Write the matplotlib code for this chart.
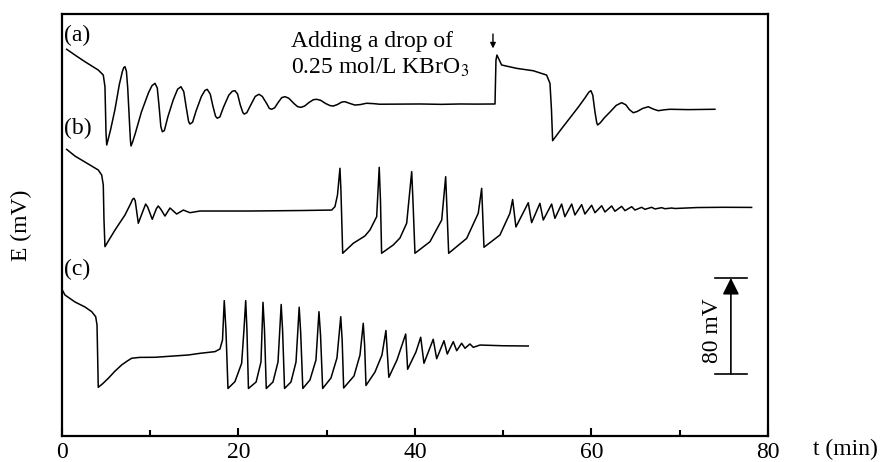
import matplotlib
matplotlib.use('Agg')
import matplotlib.pyplot as plt

plt.rcParams['font.family'] = ['Liberation Serif', 'DejaVu Serif']
plt.rcParams['mathtext.fontset'] = 'stix'

# 读图得到的数据: t (min), E (mV, 三条曲线已叠加偏移)
ta = [0.53, 1.47, 2.61, 4.11, 4.68, 4.87, 4.99, 5.07,
      5.5, 6.0, 6.5, 6.85, 7.0, 7.14, 7.3, 7.45, 7.6, 7.75, 7.82, 8.0,
      8.3, 9.0, 9.8, 10.2, 10.54, 10.8, 11.0, 11.2, 11.37, 11.6,
      12.0, 12.6, 13.1, 13.48, 13.8, 14.1, 14.35, 14.5, 14.8,
      15.2, 15.8, 16.2, 16.46, 16.8, 17.1, 17.4, 17.6, 17.9,
      18.3, 18.9, 19.3, 19.6, 19.9, 20.2, 20.5, 20.66, 20.95,
      21.4, 21.9, 22.32, 22.7, 23.2, 23.5, 23.76, 24.1,
      24.5, 24.9, 25.27, 25.7, 26.3, 26.7, 27.08, 27.5,
      28.0, 28.5, 28.86, 29.3, 29.9, 30.4, 30.74, 31.2,
      31.7, 32.07, 32.6, 33.2, 33.8, 34.5, 35.3, 36.0, 38.0, 40.6, 43.0, 45.1, 47.0, 49.07,
      49.18, 49.29, 49.82, 51.52, 53.41, 54.92, 55.30, 55.47, 55.60,
      56.5, 57.56, 58.5, 59.26, 59.7, 59.94, 60.15, 60.4, 60.6, 60.70,
      61.0, 61.5, 62.1, 62.8, 63.42, 63.9, 64.3, 64.74,
      65.2, 65.8, 66.44, 67.0, 67.57, 68.2, 68.9, 71.0, 73.99]
Ea = [322.3, 317.5, 311.9, 305.0, 300.8, 291.1, 252.5, 242.5,
      255.0, 272.0, 293.0, 304.0, 307.0, 307.8, 304.0, 290.0, 268.0, 247.0, 241.7, 245.0,
      252.0, 270.0, 286.0, 292.0, 293.9, 290.0, 275.0, 258.0, 253.6, 254.5,
      266.0, 280.0, 289.0, 291.1, 287.0, 273.0, 262.0, 260.0, 261.5,
      271.0, 283.0, 288.0, 288.9, 285.0, 275.0, 266.5, 264.8, 266.0,
      274.0, 284.0, 287.3, 287.8, 285.0, 276.0, 269.5, 268.3, 269.5,
      276.0, 283.0, 284.8, 283.0, 277.0, 273.0, 272.3, 273.5,
      278.0, 282.0, 282.8, 281.5, 277.0, 274.5, 273.9, 275.0,
      278.0, 280.3, 280.6, 279.8, 277.0, 275.3, 275.0, 276.2,
      278.3, 278.6, 277.2, 275.8, 276.2, 277.3, 277.0, 276.5, 276.6, 276.7, 276.4, 276.7, 276.6, 276.7,
      313.3, 317.5, 309.2, 306.4, 304.4, 300.8, 293.9, 271.7, 246.1,
      255.0, 265.0, 274.0, 281.7, 286.5, 287.8, 284.0, 270.0, 261.0, 259.2,
      261.0, 265.5, 270.0, 275.5, 277.8, 276.0, 272.0, 269.4,
      270.5, 273.0, 274.4, 272.5, 271.1, 271.8, 272.3, 272.0, 272.3]

tb = [0.53, 1.47, 2.61, 4.11, 4.50, 4.68, 4.76, 4.87,
      6.01, 7.14, 7.82, 8.0, 8.16, 8.3, 8.65, 9.2, 9.48, 9.7, 10.23, 10.7, 10.91, 11.2, 11.67,
      12.24, 13.0, 13.75, 14.5,
      15.64, 21.3, 26.97, 30.56, 30.93, 31.22, 31.5, 31.61, 31.81,
      33.01, 34.33, 34.9, 35.66, 35.95, 36.09, 36.22,
      37.54, 38.3, 39.06, 39.63, 39.77, 40.0,
      41.7, 43.03, 43.48, 43.63, 43.82,
      45.86, 47.17, 47.56, 47.82,
      49.63, 50.76, 51.07, 51.44,
      52.84, 53.22, 54.16, 54.54, 55.49, 55.86, 56.62, 56.99, 57.76, 58.13,
      58.89, 59.26, 60.02, 60.40, 61.16, 61.53, 62.29, 62.66, 63.42, 63.80,
      64.56, 64.93, 65.69, 66.06, 66.82, 67.20, 67.95, 68.33, 69.09, 69.46,
      72.0, 75.0, 78.15]
Eb = [238.9, 233.3, 228.3, 221.7, 217.5, 209.2, 180.0, 157.8,
      171.7, 184.2, 194.2, 197.3, 198.1, 196.0, 177.3, 188.0, 193.3, 191.0, 180.6, 189.5, 191.7, 189.0, 183.3,
      190.0, 185.0, 188.3, 186.1,
      187.5, 187.5, 187.9, 188.3, 191.1, 200.8, 223.1, 205.0, 152.3,
      160.6, 166.7, 171.7, 182.8, 223.9, 196.7, 152.3,
      159.2, 165.0, 177.3, 220.3, 196.7, 152.3,
      161.9, 180.0, 216.1, 188.3, 152.3,
      164.7, 185.6, 206.4, 157.3,
      167.5, 185.6, 197.1, 174.2,
      194.4, 177.8, 193.9, 180.0, 193.3, 181.4, 193.3, 182.8, 193.3, 184.2,
      192.8, 185.0, 192.3, 186.1, 191.9, 186.7, 191.7, 187.3, 191.4, 187.8,
      191.1, 188.3, 190.6, 188.9, 190.6, 189.2, 190.3, 189.4, 190.0, 189.6,
      190.4, 190.6, 190.5]

tc = [0.03, 0.34, 1.47, 2.61, 3.37, 3.82, 3.97, 4.05, 4.11,
      4.6, 5.25, 6.0, 6.76, 7.4, 7.90, 8.8, 10.54, 14.31, 15.64, 17.34, 17.9, 18.19, 18.39, 18.58, 18.81,
      19.6, 20.36, 20.62, 20.82, 20.96, 21.13,
      22.0, 22.55, 22.78, 22.95, 23.15,
      23.91, 24.48, 24.84, 25.0, 25.22,
      25.95, 26.52, 26.88, 27.05, 27.29,
      28.1, 28.78, 29.12, 29.3, 29.54,
      30.48, 31.16, 31.59, 31.75, 31.92,
      33.09, 33.77, 34.14, 34.3, 34.45,
      35.47, 36.26, 36.71, 37.04,
      37.96, 38.95, 39.17,
      40.11, 40.65, 41.02,
      42.07, 42.46, 43.29, 43.66, 44.34, 44.73, 45.29, 45.67, 46.23, 46.61,
      47.37, 50.0, 52.84]
Ec = [121.7, 117.5, 111.7, 107.5, 103.6, 99.4, 92.5, 63.3, 40.6,
      43.5, 48.1, 54.0, 59.2, 62.5, 64.8, 65.5, 65.6, 67.5, 68.9, 70.3, 72.5, 80.0, 112.8, 88.3, 39.6,
      45.3, 60.6, 88.3, 112.8, 88.3, 39.6,
      45.0, 61.7, 111.4, 88.0, 39.6,
      45.0, 61.7, 109.6, 88.0, 39.6,
      45.0, 61.7, 107.3, 86.0, 39.6,
      46.7, 63.3, 103.6, 84.0, 39.6,
      48.3, 65.0, 99.4, 80.0, 40.0,
      50.0, 67.5, 93.9, 75.0, 42.1,
      53.3, 67.5, 87.9, 48.9,
      63.3, 85.0, 55.6,
      70.0, 82.3, 60.6,
      80.6, 64.4, 79.4, 68.3, 78.6, 71.1, 77.3, 73.1, 76.7, 73.9,
      75.8, 75.2, 75.0]

labels = ['(a)', '(b)', '(c)']
label_E = [334.0, 256.0, 139.0]
bar_t = 75.8
bar_E0 = 51.7
bar_mV = 80

fig = plt.figure(figsize=(8.88, 4.62), dpi=100)
ax = fig.add_axes([0.0698, 0.0563, 0.795, 0.9134])

for t, E in [(ta, Ea), (tb, Eb), (tc, Ec)]:
    ax.plot(t, E, color='black', lw=1.1)

for lab, y in zip(labels, label_E):
    ax.text(0.2, y, lab, fontsize=17, ha='left', va='center')

ax.text(25.9, 329, 'Adding a drop of', fontsize=17, ha='left', va='center')
ax.text(25.9, 307, '0.25 mol/L KBrO$_3$', fontsize=17, ha='left', va='center')
ax.annotate('', xy=(48.84, 323.0), xytext=(48.84, 335),
            arrowprops=dict(arrowstyle='-|>', color='black', lw=1, mutation_scale=8,
                            shrinkA=0, shrinkB=0))

# 80 mV 标尺
ax.annotate('', xy=(bar_t, bar_E0 + bar_mV), xytext=(bar_t, bar_E0),
            arrowprops=dict(arrowstyle='-|>', color='black', lw=1.2, mutation_scale=25,
                            shrinkA=0, shrinkB=0))
ax.plot([bar_t - 1.8, bar_t + 1.8], [bar_E0, bar_E0], color='black', lw=1.2)
ax.plot([bar_t - 1.8, bar_t + 1.8], [bar_E0 + bar_mV, bar_E0 + bar_mV], color='black', lw=1.2)
ax.text(bar_t - 2.1, 88, '80 mV', fontsize=17, rotation=90, ha='center', va='center')

ax.set_xlim(0, 80)
ax.set_ylim(0, 351.7)
ax.set_xticks([0, 20, 40, 60, 80])
ax.set_xticks([10, 30, 50, 70], minor=True)
ax.set_yticks([])
ax.tick_params(axis='x', which='major', direction='in', length=6, width=1.5, labelsize=17, pad=4)
ax.tick_params(axis='x', which='minor', direction='in', length=4, width=1.5)
for s in ax.spines.values():
    s.set_linewidth(1.6)

ax.set_ylabel('E (mV)', fontsize=17)
ax.yaxis.set_label_coords(-0.043, 0.5)
ax.set_xlabel('t (min)', fontsize=17, va='center')
ax.xaxis.set_label_coords(1.11, -0.031)

fig.savefig('out.png', dpi=100)
